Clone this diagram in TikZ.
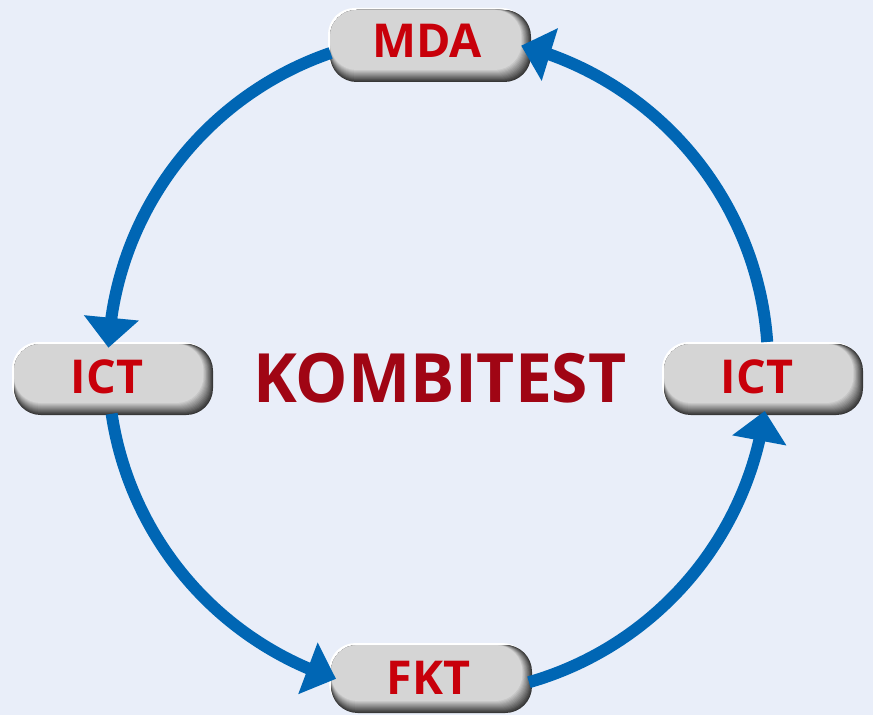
\documentclass[tikz,border=0pt]{standalone}
\usepackage{fontspec}
\setmainfont{Open Sans}
\newfontfamily\headfam[FakeStretch=0.97]{Open Sans}
\usetikzlibrary{arrows.meta,bending}

\definecolor{bg}{RGB}{233,238,249}
\definecolor{flowblue}{RGB}{0,102,180}
\definecolor{labelred}{RGB}{200,0,10}
\definecolor{boxface}{RGB}{213,213,213}
\definecolor{boxdark}{RGB}{55,55,55}
\definecolor{titleflat}{RGB}{160,5,20}

\newcommand\titlefont{\headfam\fontsize{51}{51}\selectfont\bfseries}

% bevelled pill: #1 centre, #2 width, #3 height (px)
\newcommand\pillbox[3]{%
  \begin{scope}[shift={#1}]
    \fill[white, rounded corners=20pt] (-#2/2,#3/2) rectangle (#2/2-3,-#3/2+3);
    \foreach \i in {0,...,12}{
      \pgfmathtruncatemacro\mix{100*\i/12}
      \fill[boxface!\mix!boxdark, rounded corners=20pt]
        (-#2/2+2,#3/2-2) rectangle (#2/2-0.8*\i,-#3/2+\i);
    }
  \end{scope}}

\begin{document}
\begin{tikzpicture}[x=0.75pt, y=0.75pt,
  flow/.style={draw=flowblue, line width=9pt,
    -{Triangle[length=22.5pt, width=40pt]}},
  pilltext/.style={font=\fontsize{35}{35}\selectfont\bfseries,
    text=labelred, inner sep=0pt, anchor=base},
  titletext/.style={font=\titlefont, text=titleflat, inner sep=0pt}]

  \fill[bg] (0,0) rectangle (873,715);
  \useasboundingbox (0,0) rectangle (873,715);

  % boxes
  \pillbox{(429.5,670)}{203}{74}
  \pillbox{(112.5,336.5)}{201}{73}
  \pillbox{(762.5,336.5)}{201}{73}
  \pillbox{(430.5,37)}{203}{70}

  \node[pilltext] (mda)   at (427,657)   {MDA};
  \node[pilltext] (ictl)  at (107,322)   {ICT};
  \node[pilltext] (ictr)  at (757,322)   {ICT};
  \node[pilltext] (fkt)   at (428.5,21)  {FKT};

  % heading
  \node[titletext, anchor=base] (title) at (440,313) {KOMBITEST};

  % cycle of arrows around the hub
  \coordinate (hub) at (438,350);
  \draw[flow] ([shift={(109:330)}]hub) arc[start angle=109, end angle=177, radius=330];
  \draw[flow] ([shift={(188.5:330)}]hub) arc[start angle=188.5, end angle=252, radius=330];
  \draw[flow] ([shift={(286:330)}]hub) arc[start angle=286, end angle=352, radius=330];
  \draw[flow] ([shift={(4:330)}]hub) arc[start angle=4, end angle=75.4, radius=330];
\end{tikzpicture}
\end{document}
